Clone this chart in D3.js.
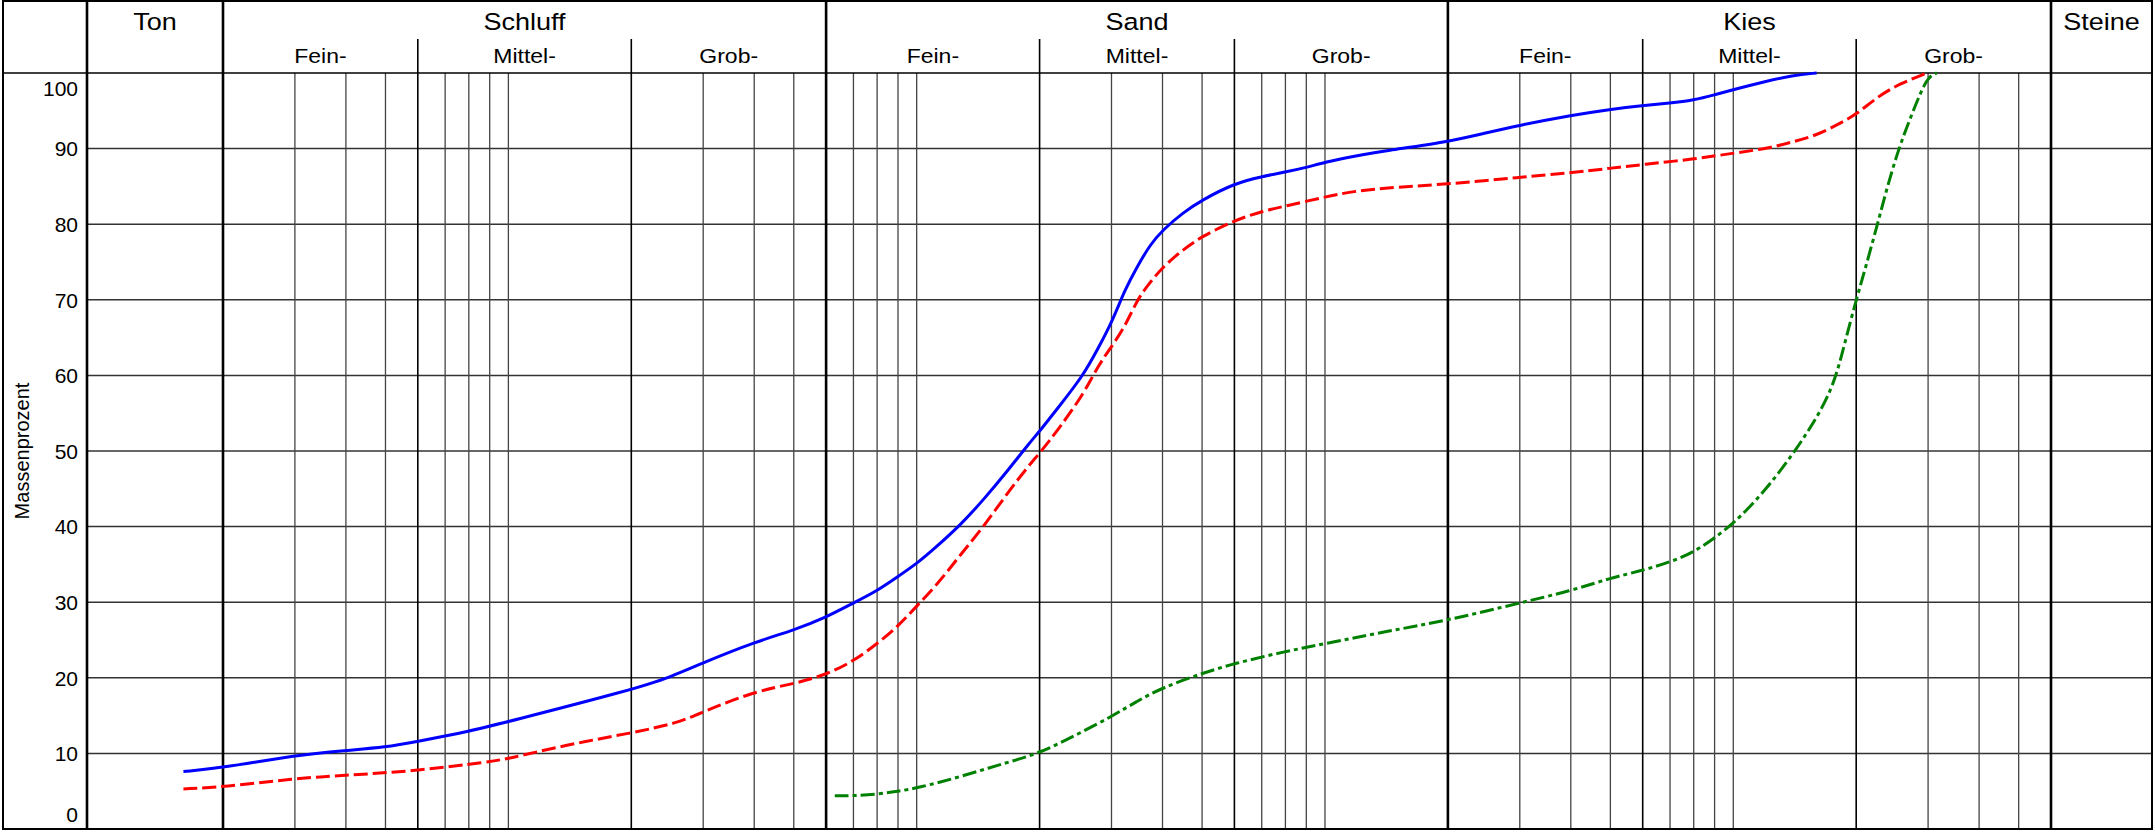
<!DOCTYPE html>
<html>
<head>
<meta charset="utf-8">
<script src="https://cdn.jsdelivr.net/npm/d3@7"></script>
<style>
  body { margin: 0; background: #fff; }
  text { font-family: "Liberation Sans", Arial, sans-serif; fill: #000; }
</style>
</head>
<body>
<svg id="chart"></svg>
<script>
// grain size classes (mm)
var MAIN_CLASSES = ["Ton", "Schluff", "Sand", "Kies", "Steine"];
var MAIN_BOUNDS = [0.002, 0.06, 2, 60];
var SUB_CLASSES = ["Fein-", "Mittel-", "Grob-"];
var SUB_BOUNDS = [0.006, 0.02, 0.2, 0.6, 6, 20];
var MINOR_LINES = [0.003, 0.004, 0.005, 0.007, 0.008, 0.009, 0.01,
                   0.03, 0.04, 0.05, 0.07, 0.08, 0.09, 0.1,
                   0.3, 0.4, 0.5, 0.7, 0.8, 0.9, 1,
                   3, 4, 5, 7, 8, 9, 10,
                   30, 40, 50];
var Y_TICKS = [0, 10, 20, 30, 40, 50, 60, 70, 80, 90, 100];

// passing percentages [diameter mm, percent]
var CURVE_BLUE = [[0.0016, 7.6], [0.002, 8.1], [0.003, 9.75], [0.004, 10.4], [0.005, 10.8], [0.006, 11.6],
  [0.008, 12.9], [0.01, 14.2], [0.02, 18.4], [0.025, 20.1], [0.03, 22.0], [0.04, 24.7], [0.05, 26.3],
  [0.06, 28.0], [0.07, 29.9], [0.08, 31.5], [0.09, 33.4], [0.1, 35.1], [0.11, 37.0], [0.128, 40.2],
  [0.146, 43.6], [0.166, 47.2], [0.189, 51.1], [0.2, 52.6], [0.224, 56.0], [0.256, 60.0], [0.279, 63.7],
  [0.301, 67.1], [0.324, 71.4], [0.346, 74.3], [0.373, 77.3], [0.4, 79.2], [0.448, 81.5], [0.5, 83.2],
  [0.6, 85.4], [0.7, 86.3], [0.8, 86.9], [0.9, 87.5], [1.0, 88.2], [1.18, 89.0], [1.4, 89.7],
  [2.0, 90.9], [2.44, 92.0], [3.0, 93.1], [4.0, 94.4], [5.0, 95.2], [6.0, 95.7], [7.0, 96.0],
  [8.0, 96.4], [9.0, 97.1], [10, 97.8], [11.8, 98.8], [14, 99.7], [16, 100]];

var CURVE_RED = [[0.0016, 5.3], [0.002, 5.55], [0.003, 6.7], [0.004, 7.1], [0.006, 7.7], [0.009, 8.9],
  [0.01, 9.3], [0.0138, 11.1], [0.02, 12.7], [0.026, 14.0], [0.03, 15.5], [0.04, 18.2], [0.05, 19.2],
  [0.06, 20.4], [0.07, 22.2], [0.08, 24.5], [0.09, 26.8], [0.1, 29.5], [0.113, 32.5], [0.128, 36.3],
  [0.146, 40.0], [0.166, 44.3], [0.189, 48.2], [0.2, 49.7], [0.224, 53.1], [0.256, 57.5], [0.279, 61.4],
  [0.301, 63.9], [0.324, 66.5], [0.346, 69.9], [0.369, 72.0], [0.4, 74.3], [0.448, 76.6], [0.5, 78.4],
  [0.6, 80.5], [0.7, 81.7], [0.8, 82.4], [1.0, 83.6], [1.18, 84.4], [1.5, 84.9], [2.0, 85.3],
  [3.0, 86.2], [4.0, 86.8], [5.0, 87.4], [6.0, 87.9], [8.0, 88.6], [10, 89.4], [12.1, 90.0],
  [14, 90.9], [15.9, 91.7], [18.2, 93.3], [20, 94.5], [22.6, 96.9], [25.6, 98.6], [29.8, 100]];

var CURVE_GREEN = [[0.063, 4.4], [0.07, 4.4], [0.08, 4.6], [0.09, 5.0], [0.1, 5.4], [0.128, 6.9],
  [0.159, 8.5], [0.2, 10.0], [0.245, 12.4], [0.301, 14.9], [0.346, 16.9], [0.4, 18.7], [0.5, 20.6],
  [0.6, 21.9], [0.8, 23.5], [1.0, 24.5], [1.4, 26.1], [2.0, 27.6], [3.0, 29.9], [4.0, 31.5],
  [5.0, 33.2], [6.0, 34.2], [7.0, 35.3], [8.0, 36.6], [9.0, 38.5], [10, 40.4], [11.8, 44.3],
  [14.3, 50.2], [16.7, 56.0], [17.9, 60.0], [18.8, 64.5], [20, 70.0], [21.1, 74.3], [22.6, 80.2],
  [23.8, 84.8], [25.4, 90.0], [27.4, 94.6], [29.8, 99.5], [31.5, 100]];

var SERIES = [
  { data: CURVE_RED, color: "#ff0000", dash: "14,5" },
  { data: CURVE_GREEN, color: "#008000", dash: "14,4,4,4" },
  { data: CURVE_BLUE, color: "#0000ff", dash: null }
];

var make_chart = function () {

    var width = 2155, height = 834;
    var frame = { left: 3, top: 1, right: 2152, bottom: 829 };
    var plotLeft = 87, headTop = 73, subTop = 39;

    var svg = d3.select("#chart")
        .attr("width", width)
        .attr("height", height);

    var x = d3.scaleLog()
        .domain([MAIN_BOUNDS[0], MAIN_BOUNDS[3]])
        .range([223, 2051]);

    var y = d3.scaleLinear()
        .domain([0, 100])
        .range([frame.bottom, headTop]);

    var grid = svg.append("g");

    // horizontal grid
    grid.selectAll(".hgrid")
        .data(Y_TICKS.filter(d => d > 0 && d < 100))
        .join("line")
        .attr("x1", plotLeft).attr("x2", frame.right)
        .attr("y1", d => y(d)).attr("y2", d => y(d))
        .attr("stroke", "#333").attr("stroke-width", 1.5);

    // minor vertical lines
    grid.selectAll(".minor")
        .data(MINOR_LINES)
        .join("line")
        .attr("x1", d => x(d)).attr("x2", d => x(d))
        .attr("y1", headTop).attr("y2", frame.bottom)
        .attr("stroke", "#444").attr("stroke-width", 1.3);

    // sub class boundaries
    grid.selectAll(".sub")
        .data(SUB_BOUNDS)
        .join("line")
        .attr("x1", d => x(d)).attr("x2", d => x(d))
        .attr("y1", subTop).attr("y2", frame.bottom)
        .attr("stroke", "#000").attr("stroke-width", 1.6);

    // main class boundaries
    grid.selectAll(".main")
        .data(MAIN_BOUNDS)
        .join("line")
        .attr("x1", d => x(d)).attr("x2", d => x(d))
        .attr("y1", frame.top).attr("y2", frame.bottom)
        .attr("stroke", "#000").attr("stroke-width", 2.6);

    grid.append("line")
        .attr("x1", plotLeft).attr("x2", plotLeft)
        .attr("y1", frame.top).attr("y2", frame.bottom)
        .attr("stroke", "#000").attr("stroke-width", 2.6);

    // header bottom / 100 line and frame
    grid.append("line")
        .attr("x1", frame.left).attr("x2", frame.right)
        .attr("y1", headTop).attr("y2", headTop)
        .attr("stroke", "#000").attr("stroke-width", 1.6);

    grid.append("rect")
        .attr("x", frame.left).attr("y", frame.top)
        .attr("width", frame.right - frame.left)
        .attr("height", frame.bottom - frame.top)
        .attr("fill", "none")
        .attr("stroke", "#000").attr("stroke-width", 2);

    // header labels
    var mainEdges = [plotLeft].concat(MAIN_BOUNDS.map(x)).concat([frame.right]);
    svg.append("g").selectAll("text")
        .data(MAIN_CLASSES)
        .join("text")
        .attr("transform", (d, i) => `translate(${(mainEdges[i] + mainEdges[i + 1]) / 2},30) scale(1.15,1)`)
        .attr("text-anchor", "middle")
        .attr("font-size", 23.5)
        .text(d => d);

    var subLabels = [];
    [0.002, 0.06, 2].forEach(function (lo, k) {
        var edges = [lo, SUB_BOUNDS[2 * k], SUB_BOUNDS[2 * k + 1], MAIN_BOUNDS[k + 1]];
        SUB_CLASSES.forEach(function (name, j) {
            subLabels.push({ name: name, cx: (x(edges[j]) + x(edges[j + 1])) / 2 });
        });
    });

    svg.append("g").selectAll("text")
        .data(subLabels)
        .join("text")
        .attr("transform", d => `translate(${d.cx},63) scale(1.15,1)`)
        .attr("text-anchor", "middle")
        .attr("font-size", 20)
        .text(d => d.name);

    // y axis
    var yAxis = svg.append("g")
        .attr("transform", `translate(${plotLeft},0)`)
        .call(d3.axisLeft(y).tickValues(Y_TICKS).tickSize(0).tickPadding(9));
    yAxis.select(".domain").remove();
    yAxis.selectAll("text")
        .attr("font-size", 21)
        .attr("font-family", "Liberation Sans, Arial, sans-serif")
        .attr("dy", d => d === 100 ? "1.05em" : d === 0 ? "-0.35em" : "0.35em");

    svg.append("text")
        .attr("transform", `translate(29,${(headTop + frame.bottom) / 2}) rotate(-90)`)
        .attr("text-anchor", "middle")
        .attr("font-size", 20)
        .text("Massenprozent");

    // curves
    var line = d3.line()
        .x(d => x(d[0]))
        .y(d => y(d[1]))
        .curve(d3.curveBasis);

    svg.append("g")
        .selectAll("path")
        .data(SERIES)
        .join("path")
        .attr("fill", "none")
        .attr("stroke", d => d.color)
        .attr("stroke-width", 3)
        .attr("stroke-dasharray", d => d.dash)
        .attr("d", d => line(d.data));
}

make_chart();
</script>
</body>
</html>
